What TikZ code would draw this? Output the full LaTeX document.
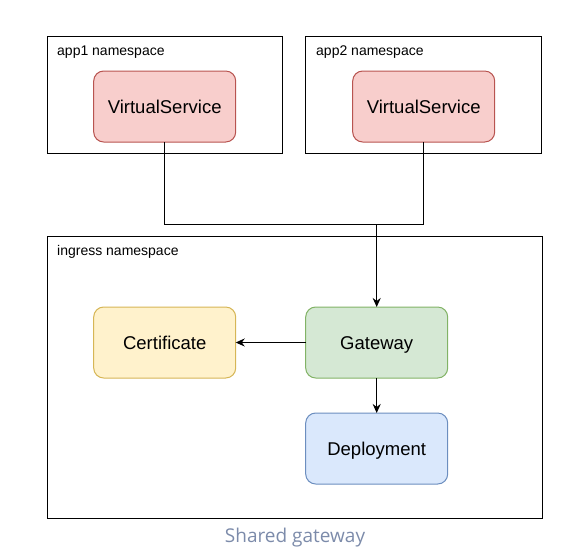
\documentclass[tikz,border=0pt]{standalone}
\usepackage{fontspec}
\setmainfont{Liberation Sans}
\newfontfamily\captionfont{Open Sans}
\usepackage{tikz}
\usetikzlibrary{arrows.meta,%
                shapes,positioning}
\definecolor{vsfill}{HTML}{F8CECC}
\definecolor{vsdraw}{HTML}{B85450}
\definecolor{certfill}{HTML}{FFF2CC}
\definecolor{certdraw}{HTML}{D6B656}
\definecolor{gwfill}{HTML}{D5E8D4}
\definecolor{gwdraw}{HTML}{82B366}
\definecolor{depfill}{HTML}{DAE8FC}
\definecolor{depdraw}{HTML}{6C8EBF}
\definecolor{capgray}{HTML}{7C8BAA}

\begin{document}
\begin{tikzpicture}[x = 1pt, y = 1pt, node distance = 70pt]
  \useasboundingbox (0,0) rectangle (570,-557);
  \tikzset{NamespaceStyle/.style = {draw,
                                    line width     = 1pt,
                                    anchor         = north west,
                                    inner sep      = 0pt,
                                    outer sep      = 0pt}}
  \tikzset{ResourceStyle/.style  = {draw,
                                    rounded corners = 10pt,
                                    line width     = 1pt,
                                    text           = black,
                                    font           = \fontsize{18.5}{22}\selectfont,
                                    text height    = 14.5pt,
                                    text depth     = 1.5pt,
                                    inner sep      = 0pt,
                                    outer sep      = 0pt,
                                    minimum width  = 142pt,
                                    minimum height = 71pt}}
  \tikzset{TitleStyle/.style     = {anchor         = west,
                                    inner sep      = 0pt,
                                    font           = \fontsize{14}{16}\selectfont}}
  \tikzset{EdgeStyle/.style      = {line width     = 1.3pt,
                                    -{Stealth[length=9pt, width=8pt]}}}
     % namespaces
     \node[NamespaceStyle, minimum width = 235.5pt, minimum height = 117pt] (NsA) at (47.3,-36.5) {};
     \node[NamespaceStyle, minimum width = 235.5pt, minimum height = 117pt] (NsB) at (305.7,-36.5) {};
     \node[NamespaceStyle, minimum width = 495pt, minimum height = 282.5pt] (NsIngress) at (47.3,-236.3) {};
     \node[TitleStyle] (NsATitle) at (57,-52) {app1 namespace};
     \node[TitleStyle] (NsBTitle) at (316,-52) {app2 namespace};
     \node[TitleStyle] (NsIngressTitle) at (57,-252) {ingress namespace};
     % resources
     \node[ResourceStyle, fill = vsfill, draw = vsdraw] (VSA) at (164.7,-106.5) {VirtualService};
     \node[ResourceStyle, fill = vsfill, draw = vsdraw, right = 117pt of VSA] (VSB) {VirtualService};
     \node[ResourceStyle, fill = certfill, draw = certdraw] (Cert) at (164.7,-342.5) {Certificate};
     \node[ResourceStyle, fill = gwfill, draw = gwdraw, right = of Cert] (Gateway) {Gateway};
     \node[ResourceStyle, fill = depfill, draw = depdraw, below = 35pt of Gateway] (Deploy) {Deployment};
     \coordinate (Join) at (Gateway.north |- 0,-224.3);
     % connectors
     \draw[line width = 1.3pt] (VSA.south) |- (Join);
     \draw[line width = 1.3pt] (VSB.south) |- (Join);
     \draw[EdgeStyle] (Join) -- (Gateway.north);
     \draw[EdgeStyle] (Gateway.west) -- (Cert.east);
     \draw[EdgeStyle] (Gateway.south) -- (Deploy.north);
     \node[font = \captionfont\fontsize{19}{22}\selectfont, text = capgray] (Caption) at (295,-537.5) {Shared gateway};
  \end{tikzpicture}
\end{document}
